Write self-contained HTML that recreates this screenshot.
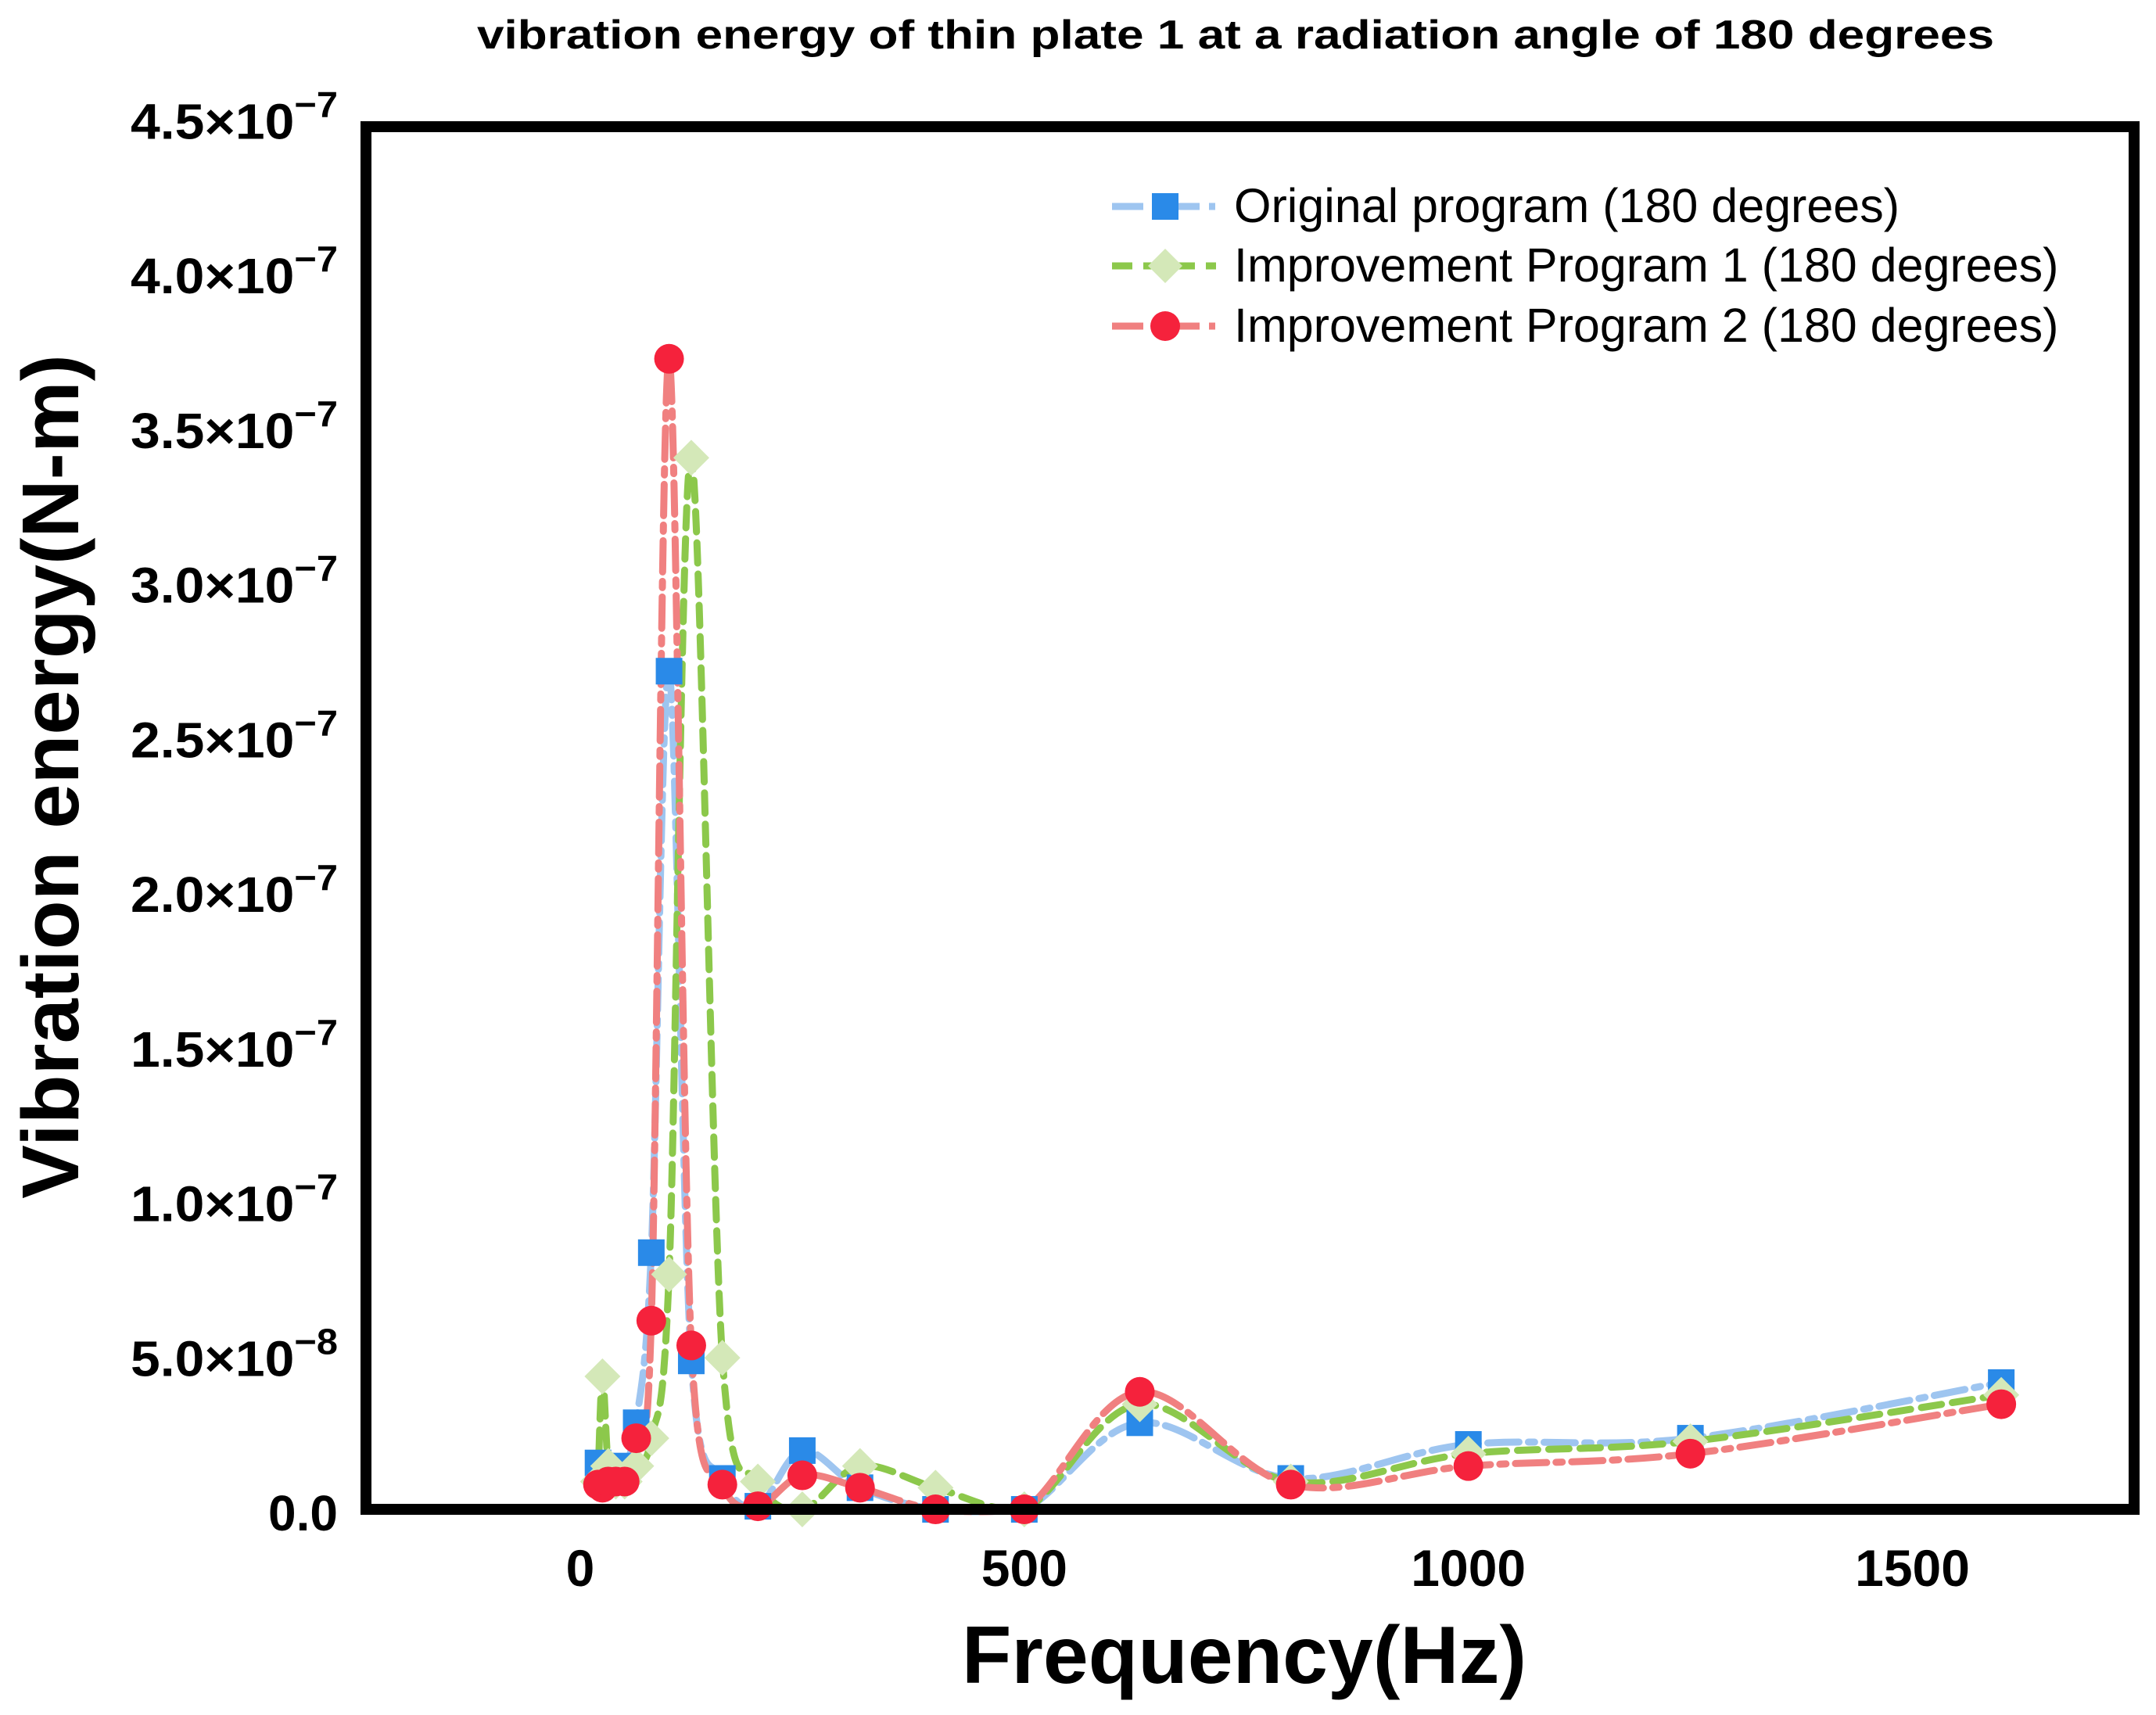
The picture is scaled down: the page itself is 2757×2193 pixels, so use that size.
<!DOCTYPE html>
<html><head><meta charset="utf-8"><style>html,body{margin:0;padding:0;background:#fff}svg{display:block}</style></head>
<body>
<svg id="chart" width="2757" height="2193" viewBox="0 0 2757 2193" xmlns="http://www.w3.org/2000/svg" font-family="Liberation Sans, Arial, sans-serif">
<text x="1580" y="62" font-size="52" font-weight="bold" text-anchor="middle" textLength="1940" lengthAdjust="spacingAndGlyphs">vibration energy of thin plate 1 at a radiation angle of 180 degrees</text>
<g id="yticks"></g>
<g id="xticks"></g>
<g id="series"></g>
<rect x="468" y="162" width="2261" height="1768" fill="none" stroke="#000" stroke-width="14"/>
<text x="1591" y="2152" font-size="104" font-weight="bold" text-anchor="middle">Frequency(Hz)</text>
<text transform="translate(100,993) rotate(-90)" font-size="103" font-weight="bold" text-anchor="middle">Vibration energy(N-m)</text>
<g>
<g>
<line x1="1422" y1="264" x2="1555" y2="264" stroke="#9ec5f0" stroke-width="9" stroke-dasharray="40,12,8,12"/>
<rect x="1473" y="247" width="34" height="34" fill="#2a8ae8"/>
<text x="1578" y="284" font-size="61">Original program (180 degrees)</text></g>
<g>
<line x1="1422" y1="340" x2="1555" y2="340" stroke="#8cc84b" stroke-width="9" stroke-dasharray="26,14"/>
<polygon points="1490,318 1512,340 1490,362 1468,340" fill="#d4e8b8"/>
<text x="1578" y="360" font-size="61">Improvement Program 1 (180 degrees)</text></g>
<g>
<line x1="1422" y1="417" x2="1555" y2="417" stroke="#f08080" stroke-width="9" stroke-dasharray="40,12,8,12"/>
<circle cx="1490" cy="417" r="19" fill="#f5223c"/>
<text x="1578" y="437" font-size="61">Improvement Program 2 (180 degrees)</text></g>
</g>
</svg>
<script>
const freqs = [20,25,31.5,40,50,63,80,100,125,160,200,250,315,400,500,630,800,1000,1250,1600];
const original = [1.6e-8,1.2e-8,1.0e-8,1.0e-8,1.5e-8,2.9e-8,8.4e-8,2.72e-7,4.9e-8,1.1e-8,0.2e-8,2.0e-8,0.8e-8,0.1e-8,0.1e-8,2.9e-8,1.1e-8,2.2e-8,2.4e-8,4.2e-8];
const improved1 = [1.0e-8,4.4e-8,1.5e-8,1.0e-8,1.0e-8,1.5e-8,2.4e-8,7.7e-8,3.41e-7,5.0e-8,1.0e-8,0.1e-8,1.5e-8,0.8e-8,0.1e-8,3.5e-8,1.0e-8,1.9e-8,2.3e-8,3.8e-8];
const improved2 = [0.9e-8,0.8e-8,1.0e-8,1.0e-8,1.0e-8,2.4e-8,6.2e-8,3.73e-7,5.4e-8,0.9e-8,0.2e-8,1.2e-8,0.8e-8,0.1e-8,0.1e-8,3.9e-8,0.9e-8,1.5e-8,1.9e-8,3.5e-8];
const yTickValues = [0,0.5e-7,1.0e-7,1.5e-7,2.0e-7,2.5e-7,3.0e-7,3.5e-7,4.0e-7,4.5e-7];
const yTickMantissa = ["0.0","5.0","1.0","1.5","2.0","2.5","3.0","3.5","4.0","4.5"];
const yTickExp = ["","−8","−7","−7","−7","−7","−7","−7","−7","−7"];
const xTickValues = [0,500,1000,1500];

const NS="http://www.w3.org/2000/svg";
function xs(v){return 742+v*1.1357;}
function ys(v){return 1934-v*3.955e9;}
function mk(tag,attrs,parent){const e=document.createElementNS(NS,tag);for(const k in attrs)e.setAttribute(k,attrs[k]);parent.appendChild(e);return e;}

const yt=document.getElementById('yticks');
yTickValues.forEach((v,i)=>{
  const t=mk('text',{x:432,y:ys(v)+23,'font-size':64,'font-weight':'bold','text-anchor':'end'},yt);
  
  
  if(yTickExp[i]===""){t.textContent=yTickMantissa[i];}
  else{
    const a=document.createElementNS(NS,'tspan');a.textContent=yTickMantissa[i]+"×10";t.appendChild(a);
    const b=document.createElementNS(NS,'tspan');b.setAttribute('dy','-28');b.setAttribute('font-size','46');b.textContent=yTickExp[i];t.appendChild(b);
  }
  if(yTickExp[i]!==""){t.setAttribute('textLength','265');t.setAttribute('lengthAdjust','spacingAndGlyphs');}
});
const xt=document.getElementById('xticks');
xTickValues.forEach(v=>{
  const t=mk('text',{x:xs(v),y:2028,'font-size':66,'font-weight':'bold','text-anchor':'middle'},xt);
  
  
  t.textContent=String(v);
});

function smoothPath(pts){
  const base=ys(0);
  let d=`M${pts[0][0]},${pts[0][1]}`;
  for(let i=0;i<pts.length-1;i++){
    const p0=pts[Math.max(0,i-1)],p1=pts[i],p2=pts[i+1],p3=pts[Math.min(pts.length-1,i+2)];
    const c1=[p1[0]+(p2[0]-p0[0])/6,Math.min(base,p1[1]+(p2[1]-p0[1])/6)];
    const c2=[p2[0]-(p3[0]-p1[0])/6,Math.min(base,p2[1]-(p3[1]-p1[1])/6)];
    d+=` C${c1[0]},${c1[1]} ${c2[0]},${c2[1]} ${p2[0]},${p2[1]}`;
  }
  return d;
}
const sg=document.getElementById('series');
const defs=[
 {vals:original,line:'#9ec5f0',dash:'40,12,8,12',mark:'#2a8ae8',shape:'square',name:'original'},
 {vals:improved1,line:'#8cc84b',dash:'26,14',mark:'#d4e8b8',shape:'diamond',name:'improvement-1'},
 {vals:improved2,line:'#f08080',dash:'40,12,8,12',mark:'#f5223c',shape:'circle',name:'improvement-2'}
];
defs.forEach(s=>{
  const pts=freqs.map((f,i)=>[xs(f),ys(s.vals[i])]);
  const p=mk('path',{d:smoothPath(pts),fill:'none',stroke:s.line,'stroke-width':9,'stroke-dasharray':s.dash,'stroke-linecap':'round'},sg);
  
  
});
defs.forEach(s=>{
  freqs.forEach((f,i)=>{
    const x=xs(f),y=ys(s.vals[i]);let m;
    if(s.shape==='square')m=mk('rect',{x:x-17,y:y-17,width:34,height:34,fill:s.mark},sg);
    else if(s.shape==='diamond')m=mk('polygon',{points:`${x},${y-23} ${x+23},${y} ${x},${y+23} ${x-23},${y}`,fill:s.mark},sg);
    else m=mk('circle',{cx:x,cy:y,r:19,fill:s.mark},sg);
    
    
  });
});
</script>
</body></html>
